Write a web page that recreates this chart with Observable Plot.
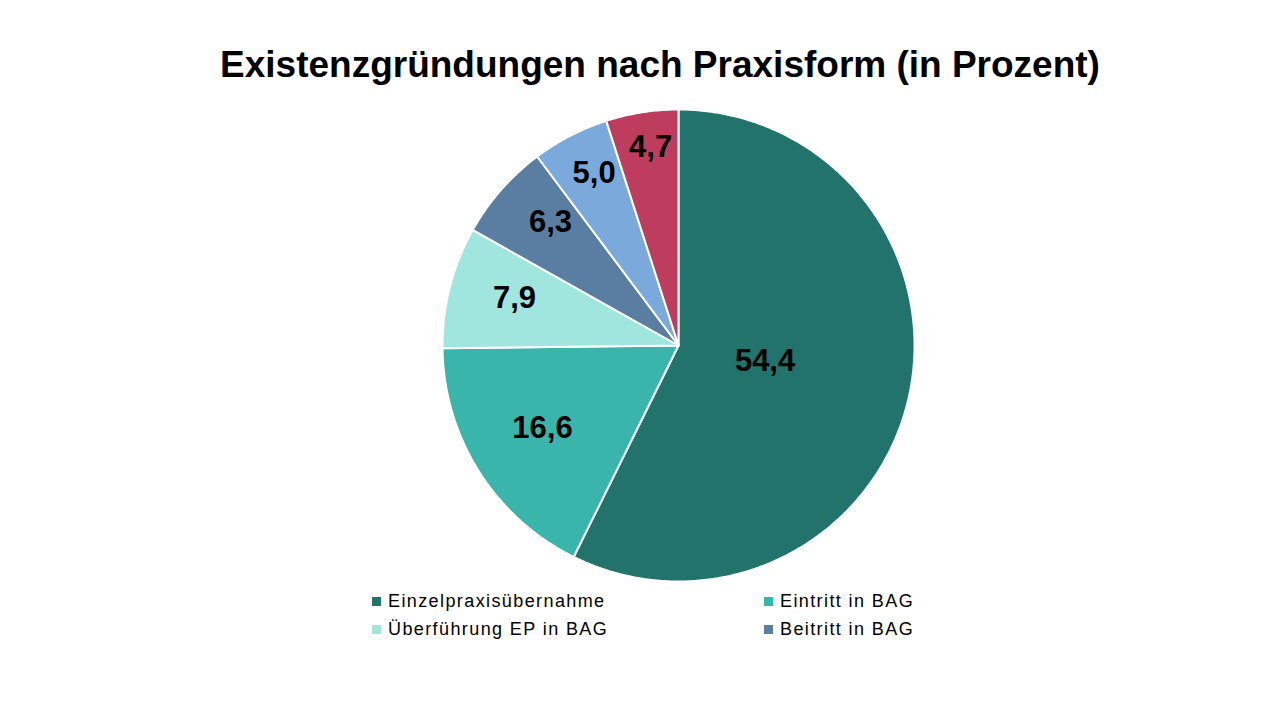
<!DOCTYPE html>
<html>
<head>
<meta charset="utf-8">
<script src="https://cdn.jsdelivr.net/npm/d3@7"></script>
<script src="https://cdn.jsdelivr.net/npm/@observablehq/plot@0.6"></script>
<style>
  html, body { margin: 0; padding: 0; background: #fff; }
  body { width: 1280px; height: 720px; position: relative; overflow: hidden; font-family: "Liberation Sans", Arial, sans-serif; }
  #title { position: absolute; left: 0; top: 43px; width: 1320px; text-align: center; font-size: 37px; font-weight: bold; color: #000; line-height: 44px; white-space: nowrap; }
  #chart { position: absolute; left: 0; top: 100px; }
  #legend { position: absolute; left: 372px; top: 590px; display: grid; grid-template-columns: 392px 220px; row-gap: 6px; font-size: 18px; letter-spacing: 1.4px; color: #000; }
  .item { display: flex; align-items: center; height: 22px; white-space: nowrap; }
  .sw { width: 9px; height: 9px; margin-right: 7px; display: inline-block; }
</style>
</head>
<body>
<div id="title">Existenzgründungen nach Praxisform (in Prozent)</div>
<div id="chart"></div>
<div id="legend"></div>
<script>
const categories = ["Einzelpraxisübernahme", "Eintritt in BAG", "Überführung EP in BAG", "Beitritt in BAG", "Einzelpraxisneugründung", "BAG-Neugründung"];
const values = [54.4, 16.6, 7.9, 6.3, 5.0, 4.7];
const colors = ["#22736B", "#3AB5AB", "#A0E6DF", "#5A7EA1", "#7BA9DC", "#BE3D5F"];
const legendCategories = ["Einzelpraxisübernahme", "Eintritt in BAG", "Überführung EP in BAG", "Beitritt in BAG"];

// layout options (not data): label distance from centre (fraction of radius) and angular nudge (degrees)
const labelRadius = [0.373, 0.674, 0.724, 0.755, 0.815, 0.848];
const labelNudge = [-2.7, 0.9, 1.9, 2.8, 1.3, 0.9];
const R = 236, cx = 678, cy = 245, W = 1280, H = 490;

const arcs = d3.pie().sort(null).value(d => d)(values);
const slicePts = [];
arcs.forEach((a, i) => {
  const n = Math.max(4, Math.ceil((a.endAngle - a.startAngle) / 0.01));
  slicePts.push({cat: categories[i], x: 0, y: 0});
  for (let k = 0; k <= n; k++) {
    const t = a.startAngle + (a.endAngle - a.startAngle) * k / n;
    slicePts.push({cat: categories[i], x: Math.sin(t), y: Math.cos(t)});
  }
  slicePts.push({cat: categories[i], x: 0, y: 0});
});
const labels = arcs.map((a, i) => {
  const m = (a.startAngle + a.endAngle) / 2 + labelNudge[i] * Math.PI / 180;
  return {cat: categories[i], x: labelRadius[i] * Math.sin(m), y: labelRadius[i] * Math.cos(m),
          text: values[i].toLocaleString("de-DE", {minimumFractionDigits: 1, maximumFractionDigits: 1})};
});

const chart = Plot.plot({
  width: W, height: H, margin: 0,
  x: {domain: [-1, 1], range: [cx - R, cx + R], axis: null},
  y: {domain: [-1, 1], range: [cy + R, cy - R], axis: null},
  color: {domain: categories, range: colors},
  style: {background: "transparent", fontFamily: "'Liberation Sans', Arial, sans-serif"},
  marks: [
    Plot.line(slicePts, {x: "x", y: "y", z: "cat", fill: "cat", stroke: "#fff", strokeWidth: 2, strokeLinejoin: "round", curve: "linear"}),
    Plot.text(labels, {x: "x", y: "y", text: "text", fontSize: 31, fontWeight: "bold", fill: "#000"})
  ]
});
document.getElementById("chart").appendChild(chart);

const colorOf = Object.fromEntries(categories.map((c, i) => [c, colors[i]]));
const lg = document.getElementById("legend");
legendCategories.forEach(c => {
  const d = document.createElement("div");
  d.className = "item";
  d.innerHTML = `<span class="sw" style="background:${colorOf[c]}"></span><span>${c}</span>`;
  lg.appendChild(d);
});
</script>
</body>
</html>
